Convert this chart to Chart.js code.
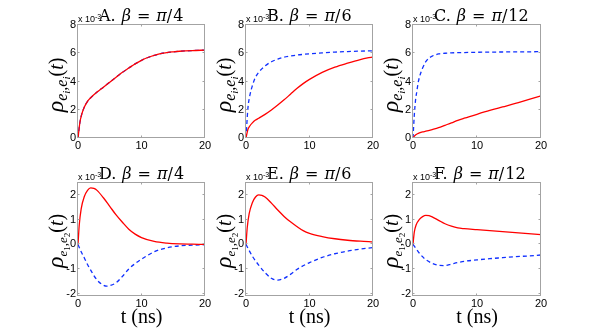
<!DOCTYPE html>
<html><head><meta charset="utf-8">
<script src="https://cdn.jsdelivr.net/npm/chart.js@4"></script>
<style>
html,body{margin:0;padding:0;background:#fff;}
#wrap{position:relative;width:598px;height:334px;overflow:hidden;background:#fff;}
canvas{position:absolute;left:0;top:0;}
</style></head><body><div id="wrap"></div>
<script>
// ---------- data (values in units of 1e-3) ----------
const xTicks = [0, 10, 20];
const yTicksTop = [0, 2, 4, 6, 8];
const yTicksBottom = [-2, -1, 0, 1, 2];

const tA = [0,0.3,0.6,1,1.5,2,3,4,5,6,7,8,9,10,11,12,13,14,15,16,18,20];
const redA  = [0,1.1,1.7,2.2,2.6,2.85,3.25,3.6,3.95,4.3,4.65,4.95,5.25,5.5,5.7,5.85,5.97,6.05,6.1,6.14,6.19,6.22];
const blueA = [0,1.1,1.7,2.2,2.6,2.85,3.25,3.6,3.95,4.3,4.65,4.95,5.25,5.5,5.7,5.85,5.97,6.05,6.1,6.14,6.19,6.22];

const tB = [0,0.3,0.6,1,1.5,2,3,4,5,6,7,8,9,10,12,14,16,18,20];
const redB  = [0,0.6,0.85,1.07,1.27,1.4,1.67,1.98,2.33,2.7,3.1,3.5,3.85,4.15,4.65,5.02,5.3,5.55,5.75];
const blueB = [0,2.1,3.0,3.7,4.3,4.65,5.1,5.4,5.58,5.72,5.8,5.87,5.92,5.96,6.03,6.08,6.12,6.15,6.17];

const tCred = [0,0.3,0.7,1,1.5,2,3,4,5,6,7,8,10,12,14,16,18,20];
const redC  = [0,0.18,0.3,0.36,0.43,0.48,0.6,0.73,0.9,1.07,1.25,1.4,1.68,1.95,2.2,2.45,2.72,2.98];
const tCblue = [0,0.2,0.4,0.6,0.8,1,1.5,2,2.5,3,4,5,6,8,10,12,14,16,18,20];
const blueC = [0,1.6,2.7,3.3,3.9,4.3,4.95,5.4,5.65,5.8,5.95,6.0,6.03,6.05,6.07,6.08,6.09,6.1,6.1,6.12];

const tDred = [0,0.2,0.5,1,1.5,2,2.5,3,4,5,6,7,8,9,10,12,14,16,18,20];
const redD  = [0,0.8,1.45,1.95,2.2,2.3,2.28,2.2,1.9,1.55,1.2,0.9,0.62,0.42,0.28,0.12,0.05,0.02,0.01,0];
const tDblue = [0,0.5,1,1.5,2,3,4,4.5,5,6,7,8,9,10,12,14,16,18,20];
const blueD = [0,-0.3,-0.55,-0.82,-1.05,-1.45,-1.66,-1.7,-1.68,-1.56,-1.3,-1.0,-0.78,-0.6,-0.3,-0.14,-0.06,-0.03,-0.01];

const tEred = [0,0.2,0.5,1,1.5,2,2.5,3,4,5,6,7,8,9,10,12,14,16,18,20];
const redE  = [0,0.7,1.25,1.7,1.93,2.02,2.0,1.93,1.68,1.4,1.14,0.92,0.73,0.56,0.45,0.32,0.23,0.17,0.13,0.1];
const tEblue = [0,0.5,1,1.5,2,3,4,4.5,5,6,7,8,9,10,12,14,16,18,20];
const blueE = [0,-0.25,-0.48,-0.67,-0.84,-1.15,-1.38,-1.44,-1.45,-1.38,-1.22,-1.02,-0.87,-0.74,-0.53,-0.38,-0.27,-0.19,-0.13];

const tFred = [0,0.2,0.5,1,1.5,2,2.5,3,4,5,6,7,8,10,12,14,16,18,20];
const redF  = [0,0.5,0.8,1.02,1.13,1.18,1.17,1.12,0.98,0.84,0.74,0.67,0.64,0.6,0.56,0.52,0.48,0.44,0.4];
const tFblue = [0,0.5,1,1.5,2,3,4,5,6,7,8,10,12,14,16,18,20];
const blueF = [0,-0.18,-0.36,-0.5,-0.62,-0.77,-0.85,-0.86,-0.8,-0.74,-0.69,-0.63,-0.58,-0.54,-0.5,-0.47,-0.43];

const titleLetters = ['A', 'B', 'C', 'D', 'E', 'F'];
const betaDenoms = ['4', '6', '12', '4', '6', '12'];
const xLabel = 't (ns)';

// ---------- layout ----------
const W = 598, H = 334;
const cols = [[78, 205], [246, 373], [413, 541]];
const rows = [[25, 138], [183, 296]];
const SERIF = "'Liberation Serif','DejaVu Serif',serif";
const TSERIF = "'DejaVu Serif','Liberation Serif',serif";
const SANS = "'Liberation Sans',Arial,sans-serif";

function pts(t, v) { return t.map((x, i) => ({ x: x, y: v[i] })); }

function drawRich(ctx, segs, x, y, align) {
  let total = 0;
  segs.forEach(s => {
    if (s.gap) { s.w = s.gap; } else { ctx.font = s.f; s.w = ctx.measureText(s.t).width; }
    total += s.w;
  });
  let cx = align === 'center' ? x - total / 2 : x;
  ctx.textBaseline = 'alphabetic';
  ctx.textAlign = 'left';
  segs.forEach(s => {
    if (!s.gap) { ctx.font = s.f; ctx.fillText(s.t, cx, y + (s.dy || 0)); }
    cx += s.w;
  });
  return total;
}

const boxPlugin = {
  id: 'matlabBox',
  afterDraw(chart) {
    const o = chart.options.plugins.matlabBox;
    const { ctx, chartArea: a, scales: { x, y } } = chart;
    ctx.save();
    ctx.strokeStyle = '#a3a3a3';
    ctx.lineWidth = 1;
    const L = Math.round(a.left) - 0.5, R = Math.round(a.right) - 0.5;
    const T = Math.round(a.top) - 0.5, B = Math.round(a.bottom) - 0.5;
    ctx.strokeRect(L, T, R - L, B - T);
    const tl = 2;
    ctx.beginPath();
    x.ticks.forEach(tk => {
      const px = Math.round(x.getPixelForValue(tk.value)) - 0.5;
      ctx.moveTo(px, B); ctx.lineTo(px, B - tl);
      ctx.moveTo(px, T); ctx.lineTo(px, T + tl);
    });
    y.ticks.forEach(tk => {
      const py = Math.round(y.getPixelForValue(tk.value)) - 0.5;
      ctx.moveTo(L, py); ctx.lineTo(L + tl, py);
      ctx.moveTo(R, py); ctx.lineTo(R - tl, py);
    });
    ctx.stroke();

    ctx.fillStyle = '#000';
    // exponent label
    drawRich(ctx, [
      { t: 'x 10', f: '9px ' + SANS },
      { t: '-3', f: '7px ' + SANS, dy: -3 }
    ], a.left, a.top - 3, 'left');
    // title
    drawRich(ctx, [
      { t: o.letter + '.', f: '16px ' + TSERIF },
      { gap: 6 },
      { t: 'β', f: 'italic 16px ' + TSERIF },
      { gap: 6 },
      { t: '=', f: '16px ' + TSERIF },
      { gap: 6 },
      { t: 'π', f: 'italic 16px ' + TSERIF },
      { t: '/', f: '16px ' + TSERIF },
      { gap: 1 },
      { t: o.denom, f: '16px ' + TSERIF }
    ], a.left + 21, a.top - 4, 'left');
    // y label (rotated)
    const sub = o.bottom
      ? [{ t: 'e', f: 'italic 13px ' + SERIF, dy: 4 }, { t: '1', f: '9px ' + SERIF, dy: 7 },
         { t: ',', f: 'italic 13px ' + SERIF, dy: 4 },
         { t: 'e', f: 'italic 13px ' + SERIF, dy: 4 }, { t: '2', f: '9px ' + SERIF, dy: 7 }]
      : [{ t: 'e', f: 'italic 16px ' + SERIF, dy: 4 }, { t: 'i', f: 'italic 11px ' + SERIF, dy: 7 },
         { t: ',', f: 'italic 16px ' + SERIF, dy: 4 },
         { t: 'e', f: 'italic 16px ' + SERIF, dy: 4 }, { t: 'i', f: 'italic 11px ' + SERIF, dy: 7 }];
    const ysegs = [{ t: 'ρ', f: 'italic 24px ' + SERIF }].concat(sub).concat([
      { t: '(', f: '20px ' + SERIF },
      { t: 't', f: 'italic 20px ' + SERIF },
      { t: ')', f: '20px ' + SERIF }
    ]);
    ctx.save();
    ctx.translate(a.left - 15, (a.top + a.bottom) / 2 + (o.bottom ? 1.5 : 3.5));
    ctx.rotate(-Math.PI / 2);
    drawRich(ctx, ysegs, 0, 0, 'center');
    ctx.restore();
    // x label on bottom row
    if (o.bottom) {
      drawRich(ctx, [{ t: xLabel, f: '20px ' + SERIF }], (a.left + a.right) / 2, a.bottom + 27, 'center');
    }
    ctx.restore();
  }
};

const panels = [
  { r: 0, c: 0, red: pts(tA, redA), blue: pts(tA, blueA) },
  { r: 0, c: 1, red: pts(tB, redB), blue: pts(tB, blueB) },
  { r: 0, c: 2, red: pts(tCred, redC), blue: pts(tCblue, blueC) },
  { r: 1, c: 0, red: pts(tDred, redD), blue: pts(tDblue, blueD) },
  { r: 1, c: 1, red: pts(tEred, redE), blue: pts(tEblue, blueE) },
  { r: 1, c: 2, red: pts(tFred, redF), blue: pts(tFblue, blueF) }
];

const wrap = document.getElementById('wrap');
const YW = 40, XH = 20;
panels.forEach((p, i) => {
  const cv = document.createElement('canvas');
  cv.width = W; cv.height = H;
  cv.style.width = W + 'px'; cv.style.height = H + 'px';
  wrap.appendChild(cv);
  const [L, R] = cols[p.c];
  const [T, B] = rows[p.r];
  const bottom = p.r === 1;
  const yt = bottom ? yTicksBottom : yTicksTop;
  new Chart(cv.getContext('2d'), {
    type: 'line',
    data: {
      datasets: [
        { data: p.red, borderColor: '#ff0000', borderWidth: 1.3, pointRadius: 0,
          cubicInterpolationMode: 'monotone', fill: false },
        { data: p.blue, borderColor: '#1030ff', borderWidth: 1.3, borderDash: [4, 3], pointRadius: 0,
          cubicInterpolationMode: 'monotone', fill: false }
      ]
    },
    options: {
      responsive: false, animation: false, devicePixelRatio: 1,
      events: [],
      layout: { padding: { left: L - YW, right: W - R, top: T, bottom: H - B - XH } },
      plugins: {
        legend: { display: false }, tooltip: { enabled: false }, title: { display: false },
        matlabBox: { letter: titleLetters[i], denom: betaDenoms[i], bottom: bottom }
      },
      scales: {
        x: {
          type: 'linear', min: 0, max: 20, offset: false,
          grid: { display: false, drawTicks: false }, border: { display: false },
          afterBuildTicks: s => { s.ticks = xTicks.map(v => ({ value: v })); },
          afterFit: s => { s.height = XH; },
          ticks: { padding: 1, color: '#000', autoSkip: false, maxRotation: 0,
                   font: { family: SANS, size: 11 } }
        },
        y: {
          type: 'linear', min: bottom ? -2.1 : 0, max: bottom ? 2.5 : 8,
          grid: { display: false, drawTicks: false }, border: { display: false },
          afterBuildTicks: s => { s.ticks = yt.map(v => ({ value: v })); },
          afterFit: s => { s.width = YW; },
          ticks: { padding: 2, color: '#000', autoSkip: false,
                   font: { family: SANS, size: 11 } }
        }
      }
    },
    plugins: [boxPlugin]
  });
});
</script></body></html>
